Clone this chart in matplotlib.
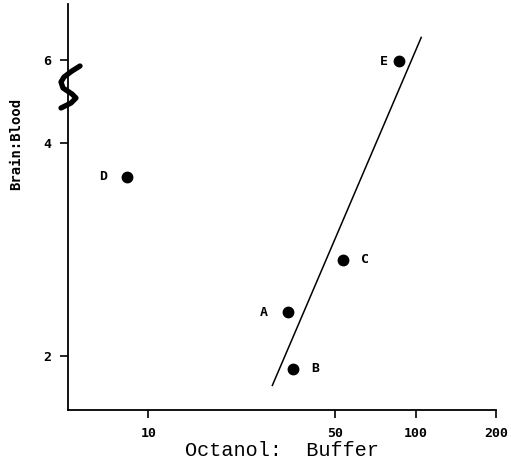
import numpy as np
import matplotlib
matplotlib.use('Agg')
import matplotlib.pyplot as plt

# data
labels = ['A', 'B', 'C', 'D', 'E']
octanol_buffer = [33.2, 34.9, 53.4, 8.3, 87.0]
brain_blood = [2.31, 1.92, 2.74, 3.59, 5.98]
label_side = [-1, 1, 1, -1, -1]

fit_x = [29.1, 105.0]
fit_y = [1.82, 6.71]

xticks = [10, 50, 100, 200]
yticks = [2, 4, 6]

# y axis is broken above 4: compressed log scale there
K = 0.666

def fwd(y):
    y = np.asarray(y, dtype=float)
    l = np.log2(np.clip(y, 1e-6, None))
    return np.where(l <= 2, l, 2 + (l - 2) * K)

def inv(f):
    f = np.asarray(f, dtype=float)
    return np.where(f <= 2, 2.0 ** f, 2.0 ** (2 + (f - 2) / K))

fig = plt.figure(figsize=(5.11, 4.72), dpi=100)
ax = fig.add_axes([68/511, (472-410)/472, (496-68)/511, (410-4)/472])

ax.set_xscale('log')
ax.set_yscale('function', functions=(fwd, inv))
ax.set_xlim(5, 200)
ax.set_ylim(1.68, 7.9)

ax.plot(fit_x, fit_y, color='black', lw=1.1)
ax.plot(octanol_buffer, brain_blood, 'o', color='black', ms=7.5)

for lab, x, y, s in zip(labels, octanol_buffer, brain_blood, label_side):
    dx = 22 if s > 0 else -24
    if lab == 'E':
        dx = -16
    ax.annotate(lab, (x, y), xytext=(dx, 0), textcoords='offset pixels',
                ha='center', va='center', fontsize=9.5, fontweight='bold',
                family='DejaVu Sans Mono')

ax.set_xticks(xticks)
ax.set_xticklabels([str(t) for t in xticks])
ax.xaxis.set_minor_locator(matplotlib.ticker.NullLocator())
ax.set_yticks(yticks)
ax.set_yticklabels([str(t) for t in yticks])
ax.yaxis.set_minor_locator(matplotlib.ticker.NullLocator())

for lab in ax.get_xticklabels() + ax.get_yticklabels():
    lab.set_family('DejaVu Sans Mono')
    lab.set_fontweight('bold')
    lab.set_fontsize(9.5)
ax.tick_params(direction='out', length=6, width=1.2, pad=6)
ax.tick_params(axis='x', pad=6)

ax.spines['top'].set_visible(False)
ax.spines['right'].set_visible(False)
ax.spines['left'].set_linewidth(1.3)
ax.spines['bottom'].set_linewidth(1.3)

ax.set_xlabel('Octanol:  Buffer', family='Liberation Mono', fontsize=14.5, labelpad=1)
ax.set_ylabel('Brain:Blood', family='DejaVu Sans Mono', fontweight='bold', fontsize=10)
ax.yaxis.set_label_coords(-0.105, 0.655)

# axis break squiggle, in pixels -> axes fraction
sq_px = [(80, 66), (72, 71), (64, 77), (61, 82), (63, 88), (72, 94), (76, 98), (71, 103), (61, 108)]
sq_x = [(p[0] - 68) / 428 for p in sq_px]
sq_y = [(410 - p[1]) / 406 for p in sq_px]
ax.plot(sq_x, sq_y, color='black', lw=3.8, transform=ax.transAxes, clip_on=False,
        solid_capstyle='round', solid_joinstyle='round')

fig.savefig('out.png', dpi=100)
